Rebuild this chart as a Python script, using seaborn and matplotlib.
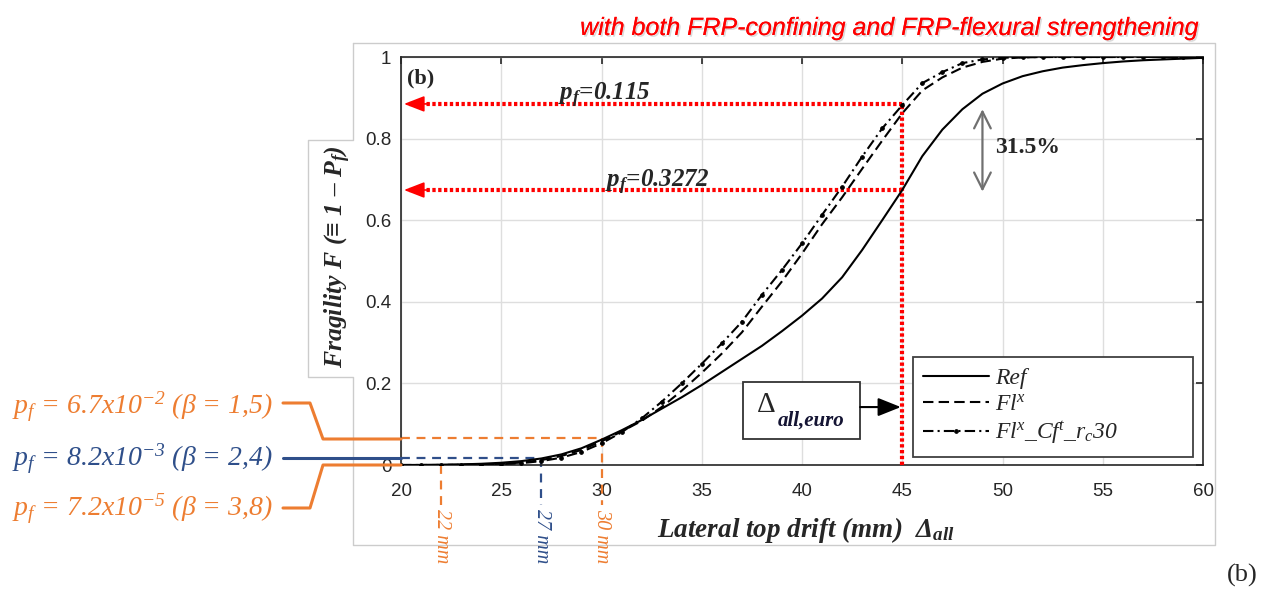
import matplotlib
matplotlib.use("Agg")
import matplotlib.pyplot as plt
import matplotlib.patheffects as pe
from matplotlib.lines import Line2D
from matplotlib.patches import Rectangle
import numpy as np
import pandas as pd
import seaborn as sns

# ---------------- data ----------------
drift_mm = list(range(20, 61))
ref = [0.0, 0.0002, 0.0006, 0.0015, 0.003, 0.0055, 0.0095, 0.016, 0.026, 0.041,
       0.062, 0.085, 0.110, 0.138, 0.166, 0.196, 0.228, 0.260, 0.292, 0.328,
       0.366, 0.408, 0.460, 0.527, 0.600, 0.674, 0.757, 0.822, 0.872, 0.910,
       0.935, 0.953, 0.965, 0.974, 0.980, 0.985, 0.989, 0.992, 0.994, 0.996, 0.998]
flx = [0.0, 0.0, 0.0002, 0.0006, 0.0015, 0.003, 0.006, 0.012, 0.022, 0.037,
       0.058, 0.082, 0.108, 0.142, 0.182, 0.226, 0.273, 0.325, 0.388, 0.450,
       0.518, 0.590, 0.656, 0.726, 0.795, 0.862, 0.918, 0.950, 0.974, 0.988,
       0.996, 0.999, 1.0, 1.0, 1.0, 1.0, 1.0, 1.0, 1.0, 1.0, 1.0]
flx_cft = [0.0, 0.0, 0.0001, 0.0004, 0.001, 0.0022, 0.0045, 0.0095, 0.018, 0.032,
           0.053, 0.080, 0.114, 0.155, 0.200, 0.248, 0.298, 0.351, 0.417, 0.478,
           0.543, 0.613, 0.682, 0.756, 0.825, 0.882, 0.936, 0.963, 0.985, 0.994,
           0.998, 0.9995, 1.0, 1.0, 1.0, 1.0, 1.0, 1.0, 1.0, 1.0, 1.0]
series_labels = ["Ref", "Fl$^x$", "Fl$^x$_Cf$^t$_r$_c$30"]
xticks = [20, 25, 30, 35, 40, 45, 50, 55, 60]
yticks = [0, 0.2, 0.4, 0.6, 0.8, 1.0]
ytick_labels = ["0", "0.2", "0.4", "0.6", "0.8", "1"]
pf_values = ["0.115", "0.3272"]
fragility_levels = [0.885, 0.674]
drift_euro = 45
threshold_mm = [30, 27, 22]
threshold_F = [0.065, 0.017, 0.0]
threshold_text = [r"p$_f$ = 6.7x10$^{-2}$ (β = 1,5)",
                  r"p$_f$ = 8.2x10$^{-3}$ (β = 2,4)",
                  r"p$_f$ = 7.2x10$^{-5}$ (β = 3,8)"]
gap_low, gap_high = 0.67, 0.872

# ---------------- style ----------------
sns.set_style("white")
plt.rcParams["font.family"] = ["Liberation Sans", "DejaVu Sans"]
plt.rcParams["mathtext.fontset"] = "custom"
plt.rcParams["mathtext.it"] = "Liberation Serif:italic"
plt.rcParams["mathtext.rm"] = "Liberation Serif:italic"
plt.rcParams["mathtext.bf"] = "Liberation Serif:italic:bold"

W, H = 1270, 595
fig = plt.figure(figsize=(W / 100, H / 100), dpi=100)
fig.patch.set_facecolor("white")


def fx(px):
    return px / W


def fy(py):
    return 1 - py / H


ax = fig.add_axes([fx(401), fy(465), (1203 - 401) / W, (465 - 57) / H])

ORANGE = "#ED7D31"
BLUE = "#2F4F8A"
SERIF = ["Liberation Serif", "DejaVu Serif"]

df = pd.DataFrame({"drift": drift_mm, "Ref": ref, "Flx": flx, "FlxCft": flx_cft})

sns.lineplot(data=df, x="drift", y="Ref", ax=ax, color="black", lw=1.5,
             label=series_labels[0], zorder=4)
sns.lineplot(data=df, x="drift", y="Flx", ax=ax, color="black", lw=1.5,
             linestyle=(0, (5, 2.5)), label=series_labels[1], zorder=4)
sns.lineplot(data=df, x="drift", y="FlxCft", ax=ax, color="black", lw=1.5,
             linestyle=(0, (5, 2, 1, 2)), marker="o", markersize=2.6,
             mec="black", mfc="black", label=series_labels[2], zorder=4)

ax.set_xlim(20, 60)
ax.set_ylim(0, 1)
ax.set_xticks(xticks)
ax.set_yticks(yticks)
ax.set_yticklabels(ytick_labels)
ax.set_xlabel("")
ax.set_ylabel("")
ax.grid(True, color="#dedede", lw=1)
ax.set_axisbelow(True)
ax.tick_params(direction="in", length=5, width=1.2, top=True, right=True,
               labelsize=13.5, colors="#262626")
ax.tick_params(axis="x", pad=13)
ax.tick_params(axis="y", pad=7)
for s in ax.spines.values():
    s.set_color("#262626")
    s.set_linewidth(1.2)

# ---- red dotted guides ----
RED = "#FF0000"
ax.plot([drift_euro, drift_euro], [0, fragility_levels[0]], color=RED, lw=3,
        linestyle=(0, (0.8, 0.6)), zorder=3)
for lvl in fragility_levels:
    ax.plot([20.4, drift_euro], [lvl, lvl], color=RED, lw=3,
            linestyle=(0, (0.8, 0.6)), zorder=3)
    ax.annotate("", xy=(20.15, lvl), xytext=(21.4, lvl),
                arrowprops=dict(arrowstyle="-|>,head_length=0.9,head_width=0.35",
                                color=RED, lw=1.2, mutation_scale=14,
                                shrinkA=0, shrinkB=0), zorder=3)

ax.text(27.83, 0.893, r"p$_{\mathbf{f}}$=" + pf_values[0], fontsize=18,
        family=SERIF, style="italic", weight="bold", va="baseline", zorder=6)
ax.text(30.17, 0.681, r"p$_{\mathbf{f}}$=" + pf_values[1], fontsize=18,
        family=SERIF, style="italic", weight="bold", va="baseline", zorder=6)
ax.text(20.3, 0.935, "(b)", fontsize=16, family=SERIF, weight="bold",
        va="baseline")

# ---- gray double arrow & 31.5% ----
ax.annotate("", xy=(49, gap_low), xytext=(49, gap_high),
            arrowprops=dict(arrowstyle="<->,head_length=0.6,head_width=0.3",
                            color="#707070", lw=1.6, mutation_scale=20,
                            shrinkA=0, shrinkB=0))
ax.text(49.65, 0.777, "31.5%", fontsize=17, family=SERIF, weight="bold",
        va="center", ha="left")

# ---- Delta_all,euro box ----
ax.add_patch(Rectangle((37.06, 0.064), 5.84, 0.139, facecolor="white",
                       edgecolor="#333333", lw=1.3, zorder=5))
ax.text(37.76, 0.13, "Δ", fontsize=21, family=SERIF, va="baseline", zorder=6)
ax.text(38.8, 0.096, "all,euro", fontsize=15, family=SERIF, style="italic",
        weight="bold", color="#141433", va="baseline", zorder=6)
ax.annotate("", xy=(44.93, 0.142), xytext=(42.9, 0.142),
            arrowprops=dict(arrowstyle="-|>,head_length=1.0,head_width=0.4",
                            color="black", lw=1.5, mutation_scale=14,
                            shrinkA=0, shrinkB=0), zorder=6)

# ---- threshold lines (dashed) ----
colors_thr = [ORANGE, BLUE, ORANGE]
for xm, fv, c in zip(threshold_mm, threshold_F, colors_thr):
    if fv > 0:
        ax.plot([20, xm], [fv, fv], color=c, lw=1.6, linestyle=(0, (4, 3)), zorder=2)
    ax.plot([xm, xm], [fv, -0.098], color=c, lw=1.6, linestyle=(0, (4, 3)),
            clip_on=False, zorder=2)
    ax.text(xm, -0.108, f"{xm} mm", rotation=-90, ha="center", va="top",
            color=c, fontsize=14.5, family=SERIF, style="italic", clip_on=False)

# ---- legend ----
leg = ax.legend(loc="lower left", bbox_to_anchor=(0.638, 0.0196, 0.3495, 0.27),
                mode="expand", borderaxespad=0, frameon=True, fancybox=False,
                edgecolor="#404040", framealpha=1,
                prop=dict(family=SERIF, style="italic", size=17),
                handlelength=2.8, handletextpad=0.25, labelspacing=0.2,
                borderpad=0.45)
leg.get_frame().set_linewidth(1.3)
leg.set_zorder(7)

# ---- labels ----
fig.text(fx(338), fy(257), r"Fragility F (≡ 1 – P$_{\mathbf{f}}$)", rotation=90,
         ha="center", va="center", fontsize=18.5, family=SERIF, style="italic",
         weight="bold")
fig.text(fx(657), fy(537), r"Lateral top drift (mm)  Δ$_{\mathbf{all}}$",
         ha="left", va="baseline", fontsize=19.5, family=SERIF, style="italic",
         weight="bold")
fig.text(fx(1198), fy(35), "with both FRP-confining and FRP-flexural strengthening",
         ha="right", va="baseline", color=RED, fontsize=18, style="italic",
         family=["Liberation Sans", "DejaVu Sans"],
         path_effects=[pe.withSimplePatchShadow(offset=(1.2, -1.2),
                                                shadow_rgbFace="#999999",
                                                alpha=0.35), pe.Normal()])
fig.text(fx(1242), fy(575), "(b)", ha="center", va="center", fontsize=19,
         family=SERIF)

# ---- left annotations ----
text_base = [414, 466, 516]
for t, yb, c in zip(threshold_text, text_base, colors_thr):
    fig.text(fx(12), fy(yb), t, ha="left", va="baseline", color=c, fontsize=20,
             family=SERIF, style="italic")

connectors = [
    ([283, 310, 323, 401], [403, 403, 439, 439], ORANGE),
    ([283, 401], [458, 458], BLUE),
    ([283, 310, 323, 401], [508, 508, 465, 465], ORANGE),
]
for xs, ys, c in connectors:
    fig.add_artist(Line2D([fx(v) for v in xs], [fy(v) for v in ys],
                          color=c, lw=2.2, transform=fig.transFigure))

# ---- outer frame with label tab ----
fxs = [353, 1215, 1215, 353, 353, 308, 308, 353, 353]
fys = [43, 43, 545, 545, 377, 377, 140, 140, 43]
fig.add_artist(Line2D([fx(v) for v in fxs], [fy(v) for v in fys],
                      color="#cccccc", lw=1, transform=fig.transFigure, zorder=0))

fig.savefig("out.png", dpi=100, facecolor="white")
